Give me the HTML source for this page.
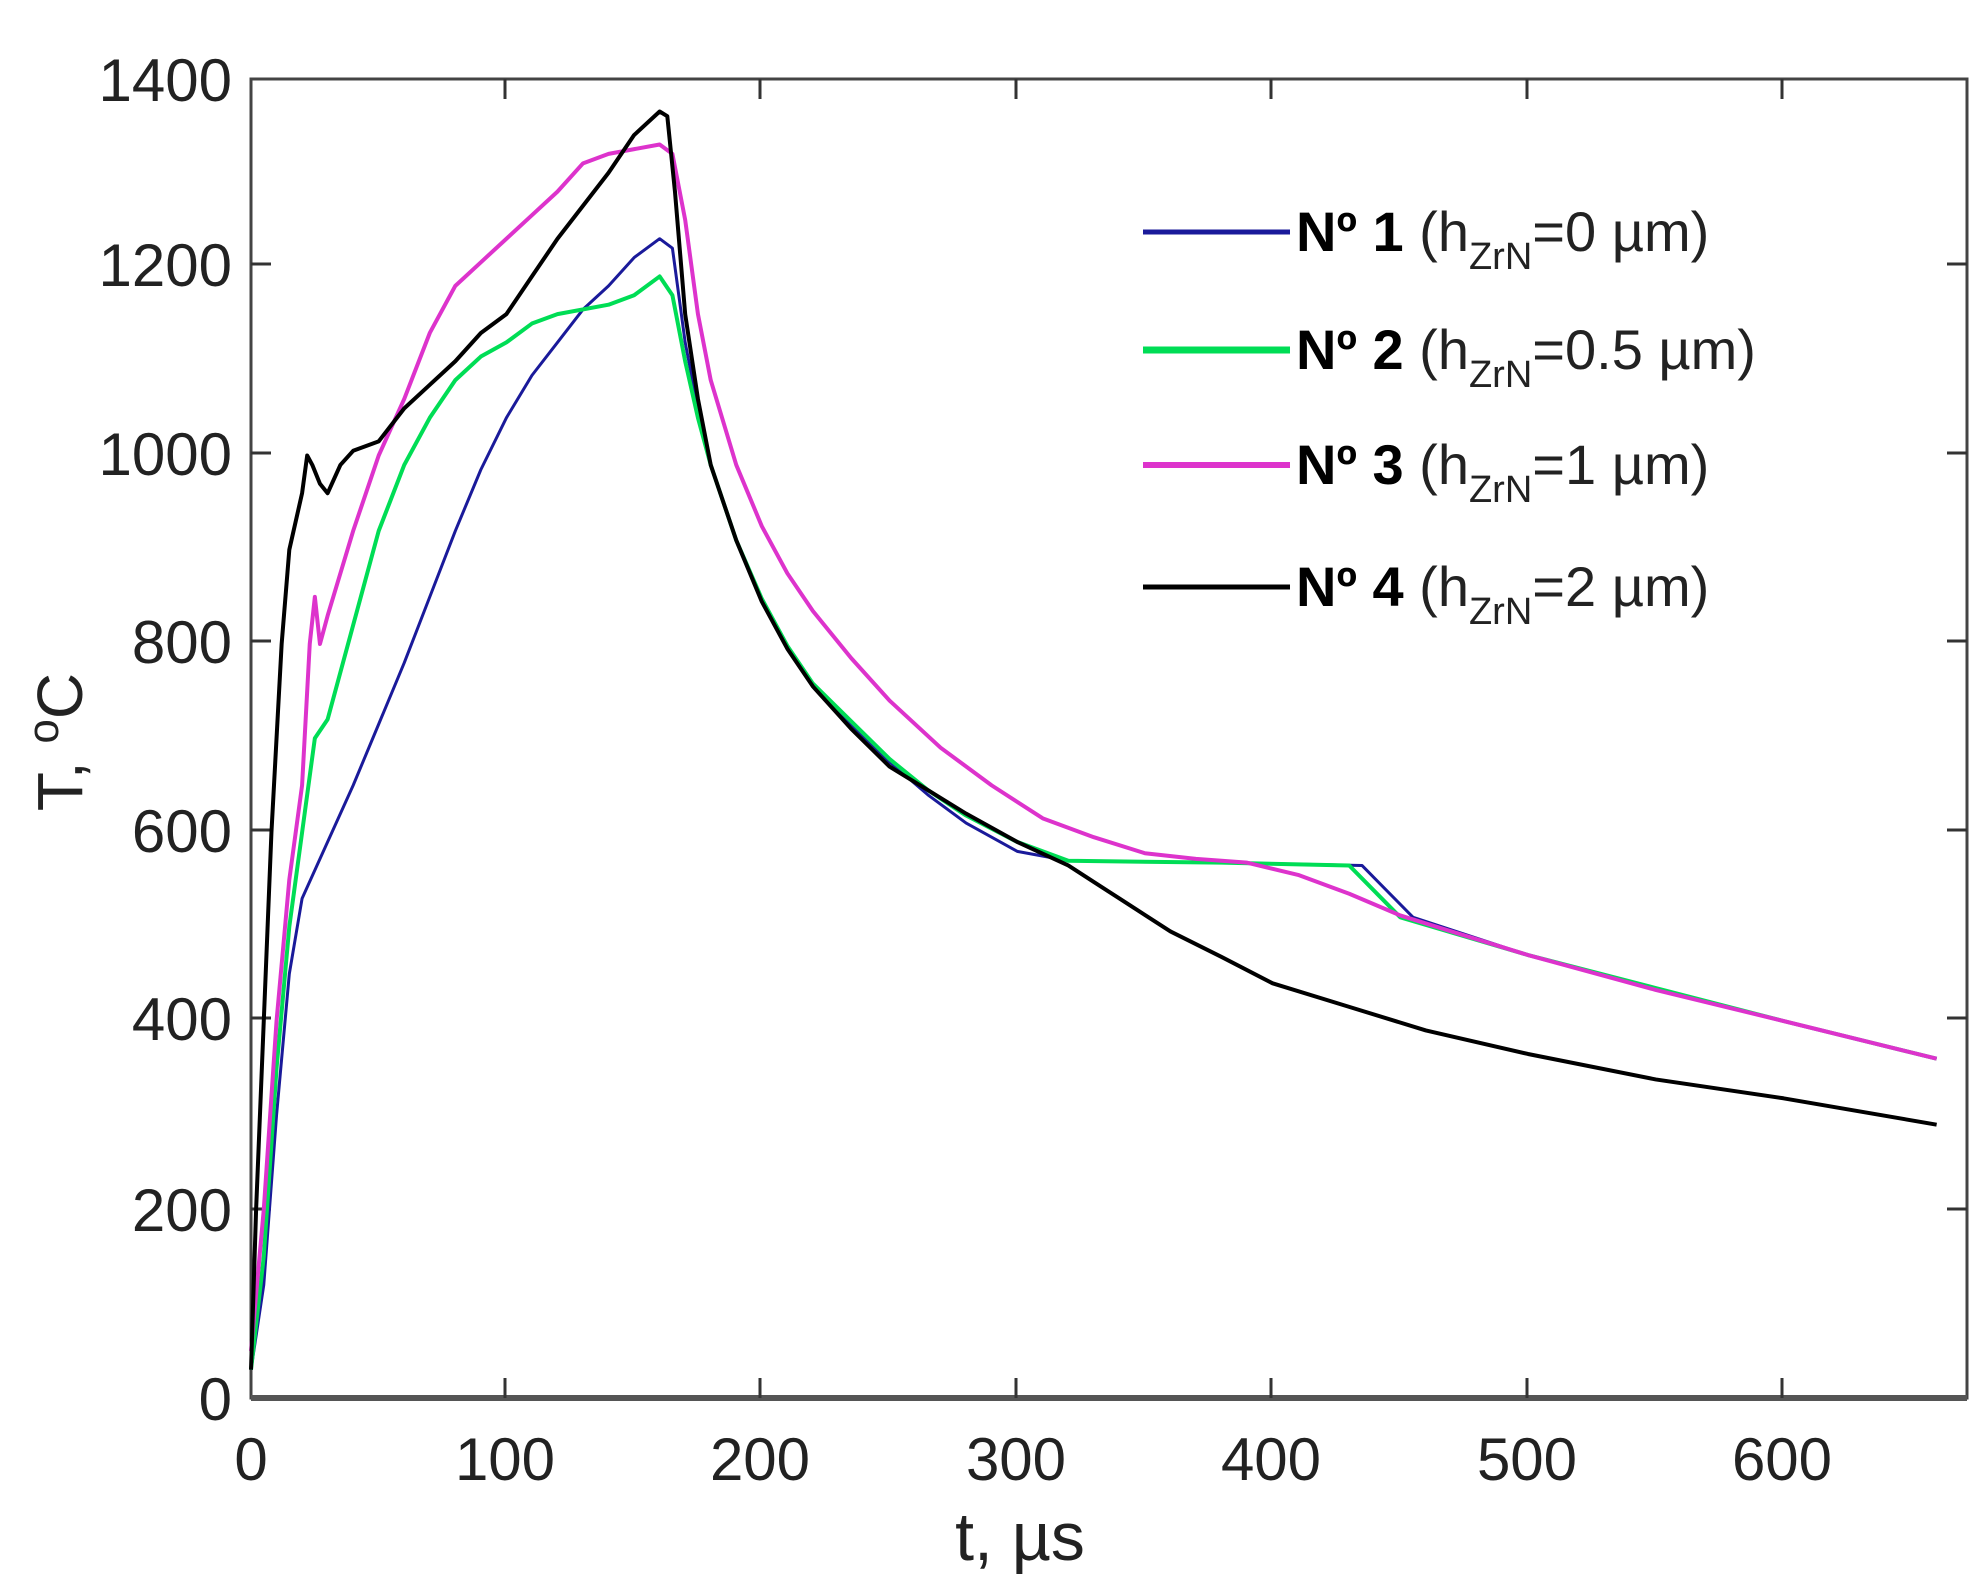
<!DOCTYPE html>
<html><head><meta charset="utf-8"><style>
html,body{margin:0;padding:0;background:#fff;}
svg{display:block;}
text{font-family:"Liberation Sans",sans-serif;fill:#222;}
</style></head><body>
<svg width="1986" height="1586" viewBox="0 0 1986 1586" xmlns="http://www.w3.org/2000/svg">
<rect width="1986" height="1586" fill="#fff"/>
<rect x="251" y="79" width="1716" height="1319" fill="none" stroke="#444" stroke-width="3"/>
<line x1="251" y1="1398" x2="1967" y2="1398" stroke="#555" stroke-width="6"/>
<g stroke="#333" stroke-width="3">
<line x1="505" y1="1398" x2="505" y2="1378"/><line x1="760" y1="1398" x2="760" y2="1378"/>
<line x1="1016" y1="1398" x2="1016" y2="1378"/><line x1="1271" y1="1398" x2="1271" y2="1378"/>
<line x1="1527" y1="1398" x2="1527" y2="1378"/><line x1="1782" y1="1398" x2="1782" y2="1378"/>
<line x1="505" y1="79" x2="505" y2="99"/><line x1="760" y1="79" x2="760" y2="99"/>
<line x1="1016" y1="79" x2="1016" y2="99"/><line x1="1271" y1="79" x2="1271" y2="99"/>
<line x1="1527" y1="79" x2="1527" y2="99"/><line x1="1782" y1="79" x2="1782" y2="99"/>
<line x1="251" y1="264" x2="271" y2="264"/><line x1="251" y1="453" x2="271" y2="453"/>
<line x1="251" y1="641" x2="271" y2="641"/><line x1="251" y1="830" x2="271" y2="830"/>
<line x1="251" y1="1018" x2="271" y2="1018"/><line x1="251" y1="1209" x2="271" y2="1209"/>
<line x1="1967" y1="264" x2="1947" y2="264"/><line x1="1967" y1="453" x2="1947" y2="453"/>
<line x1="1967" y1="641" x2="1947" y2="641"/><line x1="1967" y1="830" x2="1947" y2="830"/>
<line x1="1967" y1="1018" x2="1947" y2="1018"/><line x1="1967" y1="1209" x2="1947" y2="1209"/>
</g>
<g font-size="60" text-anchor="end">
<text x="232" y="101">1400</text><text x="232" y="286">1200</text><text x="232" y="475">1000</text>
<text x="232" y="663">800</text><text x="232" y="852">600</text><text x="232" y="1040">400</text>
<text x="232" y="1231">200</text><text x="232" y="1420">0</text>
</g>
<g font-size="60" text-anchor="middle">
<text x="251" y="1480">0</text><text x="505" y="1480">100</text><text x="760" y="1480">200</text>
<text x="1016" y="1480">300</text><text x="1271" y="1480">400</text><text x="1527" y="1480">500</text>
<text x="1782" y="1480">600</text>
</g>
<text x="1020" y="1560" font-size="68" text-anchor="middle">t, µs</text>
<text transform="translate(82,742) rotate(-90)" font-size="64" text-anchor="middle">T, <tspan dy="-24" font-size="44">o</tspan><tspan dy="24">C</tspan></text>

<g transform="translate(251,1398) scale(2.554,-0.9425)" fill="none" stroke-linejoin="round">
<polyline vector-effect="non-scaling-stroke" stroke="#1a1a9a" stroke-width="3" points="0,30 5,120 10,300 15,450 20,530 30,590 40,650 50,715 60,780 70,850 80,920 90,985 100,1040 110,1085 120,1120 130,1155 140,1180 150,1210 160,1230 165,1220 170,1120 175,1050 180,990 190,910 200,848 210,798 220,758 235,715 250,675 265,640 280,610 300,580 320,570 380,568 435,565 455,510 500,470 550,435 600,400 660,360"/>
<polyline vector-effect="non-scaling-stroke" stroke="#00dd55" stroke-width="4" points="0,30 5,150 10,350 15,500 20,600 25,700 30,720 40,820 50,920 60,990 70,1040 80,1080 90,1105 100,1120 110,1140 120,1150 140,1160 150,1170 160,1190 165,1170 170,1100 175,1040 180,990 190,910 200,848 210,798 220,758 235,718 250,678 265,645 280,618 300,590 320,570 380,568 430,565 450,510 500,470 550,435 600,400 660,360"/>
<polyline vector-effect="non-scaling-stroke" stroke="#dd33cc" stroke-width="4" points="0,50 5,200 10,400 15,550 20,650 23,800 25,850 27,800 30,830 40,920 50,1000 60,1060 70,1130 80,1180 90,1205 100,1230 110,1255 120,1280 130,1310 140,1320 160,1330 165,1320 170,1250 175,1150 180,1080 190,990 200,925 210,875 220,835 235,785 250,740 270,690 290,650 310,615 330,595 350,578 370,572 390,568 410,555 430,535 450,512 470,495 500,470 550,433 600,400 660,360"/>
<polyline vector-effect="non-scaling-stroke" stroke="#000" stroke-width="4" points="0,30 2,200 5,400 8,600 12,800 15,900 20,960 22,1000 24,990 27,970 30,960 35,990 40,1005 50,1015 60,1050 70,1075 80,1100 90,1130 100,1150 110,1190 120,1230 130,1265 140,1300 150,1340 160,1365 163,1360 166,1280 170,1150 175,1060 180,990 190,910 200,845 210,795 220,755 235,710 250,670 265,645 280,620 300,590 320,565 340,530 360,495 380,468 400,440 430,415 460,390 500,365 550,338 600,318 660,290"/>
</g>

<g stroke-width="5">
<line x1="1143" y1="232" x2="1290" y2="232" stroke="#1a1a9a"/>
<line x1="1143" y1="350" x2="1290" y2="350" stroke="#00dd55" stroke-width="7"/>
<line x1="1143" y1="465" x2="1290" y2="465" stroke="#dd33cc" stroke-width="6"/>
<line x1="1143" y1="587" x2="1290" y2="587" stroke="#000"/>
</g>
<g font-size="56">
<text x="1296" y="251"><tspan font-weight="bold" fill="#000">Nº 1</tspan> (h<tspan dy="18" font-size="38">ZrN</tspan><tspan dy="-18">=0 µm)</tspan></text>
<text x="1296" y="369"><tspan font-weight="bold" fill="#000">Nº 2</tspan> (h<tspan dy="18" font-size="38">ZrN</tspan><tspan dy="-18">=0.5 µm)</tspan></text>
<text x="1296" y="484"><tspan font-weight="bold" fill="#000">Nº 3</tspan> (h<tspan dy="18" font-size="38">ZrN</tspan><tspan dy="-18">=1 µm)</tspan></text>
<text x="1296" y="606"><tspan font-weight="bold" fill="#000">Nº 4</tspan> (h<tspan dy="18" font-size="38">ZrN</tspan><tspan dy="-18">=2 µm)</tspan></text>
</g>
</svg>
</body></html>
